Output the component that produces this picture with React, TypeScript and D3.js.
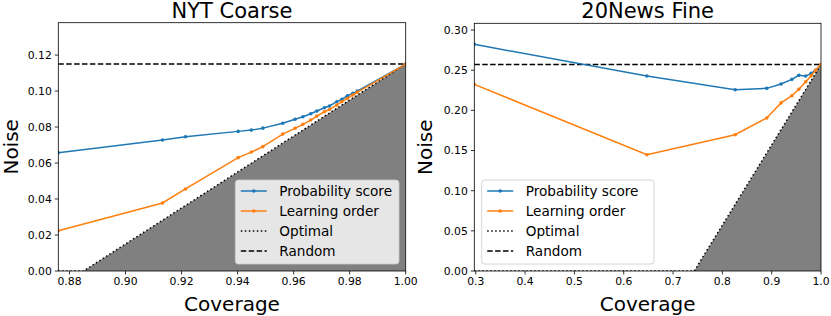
import React from "react";
import * as d3 from "d3";

// ---- Data ----
const nytCoverage = [0.876, 0.9132, 0.9214, 0.9402, 0.9449, 0.949, 0.9561, 0.9605, 0.9633, 0.9661, 0.9683, 0.971, 0.9728, 0.9754, 0.9772, 0.9792, 0.9811, 0.9827, 1.0];
const nytProb = [0.0657, 0.0728, 0.0746, 0.0776, 0.0783, 0.0794, 0.0821, 0.0843, 0.0857, 0.0874, 0.0889, 0.0907, 0.0917, 0.0941, 0.0954, 0.0974, 0.0987, 0.1, 0.115];
const nytLearn = [0.0224, 0.0378, 0.0456, 0.063, 0.0661, 0.0691, 0.0761, 0.0793, 0.0815, 0.0839, 0.0861, 0.0885, 0.0898, 0.0922, 0.0941, 0.0959, 0.0978, 0.0993, 0.115];
const nytRandom = 0.115;
const nytXTicks = [0.88, 0.9, 0.92, 0.94, 0.96, 0.98, 1.0];
const nytYTicks = [0, 0.02, 0.04, 0.06, 0.08, 0.1, 0.12];

const newsCoverage = [0.297, 0.647, 0.826, 0.89, 0.919, 0.941, 0.955, 0.969, 0.98, 0.989, 1.0];
const newsProb = [0.2822, 0.2427, 0.2257, 0.2274, 0.2328, 0.2386, 0.2436, 0.2427, 0.246, 0.25, 0.257];
const newsLearn = [0.2324, 0.1448, 0.1697, 0.1905, 0.2093, 0.2182, 0.2262, 0.2357, 0.243, 0.25, 0.257];
const newsRandom = 0.257;
const newsXTicks = [0.3, 0.4, 0.5, 0.6, 0.7, 0.8, 0.9, 1.0];
const newsYTicks = [0, 0.05, 0.1, 0.15, 0.2, 0.25, 0.3];

const legendLabels = ["Probability score", "Learning order", "Optimal", "Random"];

const BLUE = "#1f77b4";
const ORANGE = "#ff7f0e";
const FONT = "DejaVu Sans, sans-serif";

type PanelProps = {
  title: string;
  left: number;
  right: number;
  top: number;
  bottom: number;
  coverage: number[];
  prob: number[];
  learn: number[];
  random: number;
  xTicks: number[];
  yTicks: number[];
  xFmt: (v: number) => string;
  yFmt: (v: number) => string;
  legendX: number;
  legendW: number;
  legendBg: string;
  yLabelX: number;
};

function Panel(p: PanelProps) {
  const xMin = p.coverage[0];
  const x = d3.scaleLinear().domain([xMin, 1.0]).range([p.left, p.right]);
  const y = d3.scaleLinear().domain([0, p.random * 1.2]).range([p.bottom, p.top]);
  const brk = 1 - p.random;
  const optPts: [number, number][] = [
    [xMin, 0],
    [brk, 0],
    [1.0, p.random],
  ];
  const line = d3
    .line<[number, number]>()
    .x((d) => x(d[0]))
    .y((d) => y(d[1]));
  const area = d3
    .area<[number, number]>()
    .x((d) => x(d[0]))
    .y0(y(0))
    .y1((d) => y(d[1]));
  const probPts = p.coverage.map((c, i) => [c, p.prob[i]] as [number, number]);
  const learnPts = p.coverage.map((c, i) => [c, p.learn[i]] as [number, number]);
  const cx = (p.left + p.right) / 2;
  const ly = 180;
  const lh = 84;
  return (
    <g>
      <defs>
        <clipPath id={"clip-" + Math.round(p.left)}>
          <rect x={p.left} y={p.top} width={p.right - p.left} height={p.bottom - p.top} />
        </clipPath>
      </defs>
      <g clipPath={`url(#clip-${Math.round(p.left)})`}>
        <path d={area(optPts) || ""} fill="#808080" stroke="none" />
        <path d={line(optPts) || ""} fill="none" stroke="#000" strokeWidth={1.5} strokeDasharray="1.5,2.5" />
        <line x1={p.left} x2={p.right} y1={y(p.random)} y2={y(p.random)} stroke="#000" strokeWidth={1.5} strokeDasharray="5.5,2.4" />
        <path d={line(probPts) || ""} fill="none" stroke={BLUE} strokeWidth={1.5} />
        {probPts.map((d, i) => (
          <circle key={"b" + i} cx={x(d[0])} cy={y(d[1])} r={1.8} fill={BLUE} />
        ))}
        <path d={line(learnPts) || ""} fill="none" stroke={ORANGE} strokeWidth={1.5} />
        {learnPts.map((d, i) => (
          <circle key={"o" + i} cx={x(d[0])} cy={y(d[1])} r={1.8} fill={ORANGE} />
        ))}
      </g>
      <rect x={p.left} y={p.top} width={p.right - p.left} height={p.bottom - p.top} fill="none" stroke="#000" strokeWidth={0.8} />
      {p.xTicks.map((t) => (
        <g key={"xt" + t}>
          <line x1={x(t)} x2={x(t)} y1={p.bottom} y2={p.bottom + 3.5} stroke="#000" strokeWidth={0.8} />
          <text x={x(t)} y={p.bottom + 14} fontSize={10.8} textAnchor="middle" fontFamily={FONT} fill="#000">
            {p.xFmt(t)}
          </text>
        </g>
      ))}
      {p.yTicks.map((t) => (
        <g key={"yt" + t}>
          <line x1={p.left - 3.5} x2={p.left} y1={y(t)} y2={y(t)} stroke="#000" strokeWidth={0.8} />
          <text x={p.left - 6.5} y={y(t) + 3.9} fontSize={10.8} textAnchor="end" fontFamily={FONT} fill="#000">
            {p.yFmt(t)}
          </text>
        </g>
      ))}
      <text x={cx} y={17.5} fontSize={21} textAnchor="middle" fontFamily={FONT} fill="#000">
        {p.title}
      </text>
      <text x={cx} y={310.5} fontSize={20} textAnchor="middle" fontFamily={FONT} fill="#000">
        Coverage
      </text>
      <text
        transform={`translate(${p.yLabelX},${(p.top + p.bottom) / 2}) rotate(-90)`}
        fontSize={20}
        textAnchor="middle"
        fontFamily={FONT}
        fill="#000"
      >
        Noise
      </text>
      <rect x={p.legendX} y={ly} width={p.legendW} height={lh} rx={3} ry={3} fill={p.legendBg} stroke="#cccccc" strokeWidth={0.8} />
      {legendLabels.map((lab, i) => {
        const ry = ly + 11 + i * 20;
        const x0 = p.legendX + 5.5;
        const x1 = p.legendX + 31.5;
        let handle;
        if (i === 0 || i === 1) {
          const col = i === 0 ? BLUE : ORANGE;
          handle = (
            <g>
              <line x1={x0} x2={x1} y1={ry} y2={ry} stroke={col} strokeWidth={1.5} />
              <circle cx={(x0 + x1) / 2} cy={ry} r={1.8} fill={col} />
            </g>
          );
        } else if (i === 2) {
          handle = <line x1={x0} x2={x1} y1={ry} y2={ry} stroke="#000" strokeWidth={1.5} strokeDasharray="1.5,2.5" />;
        } else {
          handle = <line x1={x0} x2={x1} y1={ry} y2={ry} stroke="#000" strokeWidth={1.5} strokeDasharray="5.5,2.4" />;
        }
        return (
          <g key={"lg" + i}>
            {handle}
            <text x={p.legendX + 44} y={ry + 5} fontSize={13.6} fontFamily={FONT} fill="#000">
              {lab}
            </text>
          </g>
        );
      })}
    </g>
  );
}

export default function App() {
  const fmt2 = d3.format(".2f");
  const fmt1 = d3.format(".1f");
  return (
    <svg
      width={831}
      height={316}
      style={{ position: "absolute", left: 0, top: 0, background: "#fff" }}
      xmlns="http://www.w3.org/2000/svg"
    >
      <rect x={0} y={0} width={831} height={316} fill="#fff" />
      <Panel
        title="NYT Coarse"
        left={58.3}
        right={405.7}
        top={22.7}
        bottom={271}
        coverage={nytCoverage}
        prob={nytProb}
        learn={nytLearn}
        random={nytRandom}
        xTicks={nytXTicks}
        yTicks={nytYTicks}
        xFmt={fmt2}
        yFmt={fmt2}
        legendX={235.3}
        legendW={163.7}
        legendBg="#e6e6e6"
        yLabelX={17.5}
      />
      <Panel
        title="20News Fine"
        left={474.3}
        right={821}
        top={23.3}
        bottom={271}
        coverage={newsCoverage}
        prob={newsProb}
        learn={newsLearn}
        random={newsRandom}
        xTicks={newsXTicks}
        yTicks={newsYTicks}
        xFmt={fmt1}
        yFmt={fmt2}
        legendX={481.7}
        legendW={172.3}
        legendBg="#ffffff"
        yLabelX={431.5}
      />
    </svg>
  );
}
